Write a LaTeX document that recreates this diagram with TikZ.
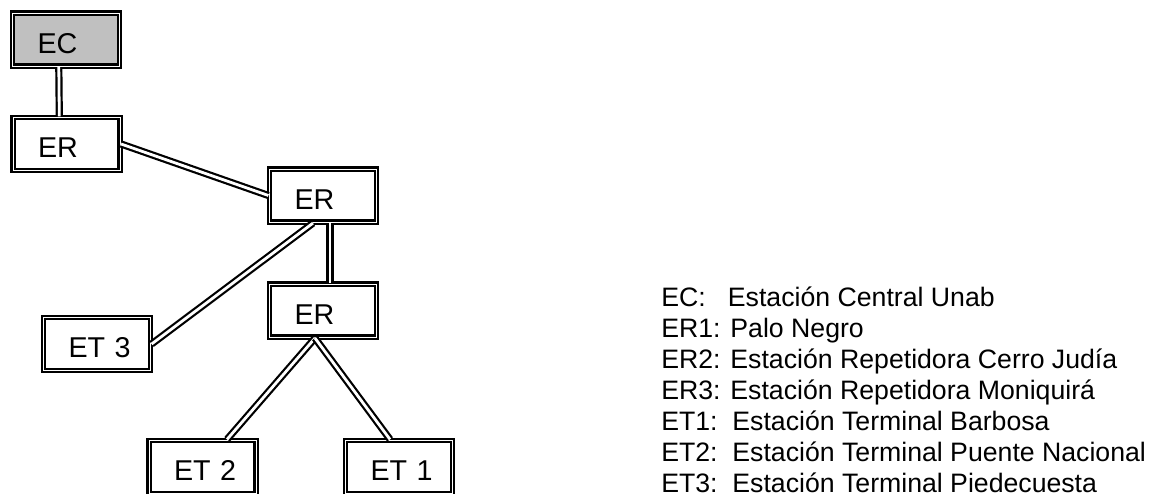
\documentclass[tikz,border=0pt]{standalone}
\usepackage{fontspec}
\setmainfont{Liberation Sans}
\usepackage{xcolor}
\definecolor{stationgrey}{RGB}{192, 192, 192}
\usetikzlibrary{positioning}

\tikzset{
  station/.style={draw=black, line width=1.65pt, double=white, double distance=0.7pt,
    minimum width=80.25pt, minimum height=39.75pt, text width=42.75pt,
    inner xsep=18.75pt, inner ysep=0pt, align=left,
    text height=30.2pt, text depth=9.5pt, font=\fontsize{21.5}{24}\selectfont},
  central/.style={station, fill=stationgrey},
  link/.style={draw=black, line width=1.65pt, double=white, double distance=2.1pt},
  legend/.style={align=left, inner sep=0pt, font=\fontsize{20}{23.25}\selectfont}
}

\begin{document}
\begin{tikzpicture}[x=0.75pt, y=-0.75pt]
  \useasboundingbox (0,0) rectangle (1155,493);

  % stations
  \node[central] (ec)  at (66, 39.5)  {EC};
  \node[station] (er1) at (66.5, 144) {ER};
  \node[station] (er2) at (323, 195.5) {ER};
  \node[station] (er3) at (323, 310.5) {ER};
  \node[station] (et3) at (97, 344)    {ET~3};
  \node[station] (et2) at (202.5, 467) {ET~2};
  \node[station] (et1) at (399, 467)   {ET~1};

  % links between stations
  \draw[link] ([xshift=-5.4pt]ec.south) -- ([xshift=-5.4pt]er1.north);
  \draw[link] (er1.east) -- (er2.west);
  \draw[link] ([xshift=5.25pt]er2.south) -- ([xshift=5.25pt]er3.north);
  \draw[link] ([xshift=-7.5pt]er2.south) -- (et3.east);
  \draw[link] ([xshift=-6pt]er3.south) -- ([xshift=18.4pt]et2.north);
  \draw[link] ([xshift=-6pt]er3.south) -- ([xshift=-6.75pt]et1.north);

  % key (anchored at the baseline of its last line)
  \node[legend, anchor=base west] (key) at (661, 492) {%
    EC:\ \ \ Estación Central Unab\\
    ER1: Palo Negro\\
    ER2: Estación Repetidora Cerro Judía\\
    ER3: Estación Repetidora Moniquirá\\
    ET1:\ \ Estación Terminal Barbosa\\
    ET2:\ \ Estación Terminal Puente Nacional\\
    ET3:\ \ Estación Terminal Piedecuesta};

\end{tikzpicture}
\end{document}
